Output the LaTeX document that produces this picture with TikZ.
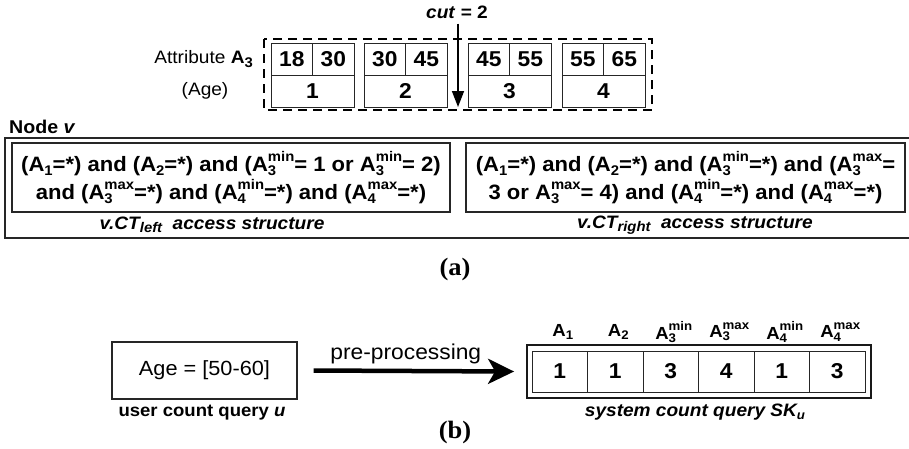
\documentclass[tikz,border=0pt]{standalone}
\usepackage{fontspec}
\setmainfont{Liberation Sans}[FakeStretch=1.06]
\newfontfamily\serifb{Liberation Serif}[FakeStretch=1.06]
\usetikzlibrary{arrows.meta}
\newcommand{\scsz}{14}
\newcommand{\Ssub}[1]{\raisebox{-0.18em}{\fontsize{\scsz}{\scsz}\selectfont #1}}
\newcommand{\Ssup}[1]{\raisebox{0.47em}{\fontsize{\scsz}{\scsz}\selectfont #1}}
\newcommand{\Asb}[1]{A\Ssub{#1}}
\newcommand{\Asp}[2]{A\rlap{\Ssub{#1}}\Ssup{#2}}
\tikzset{
  cellbox/.style={draw=black!85, line width=1pt, inner sep=0pt, font=\fontsize{21.5}{21.5}\selectfont\bfseries},
  condbox/.style={draw=black!85, line width=1.1pt, inner sep=0pt, align=center, font=\fontsize{20.8}{28}\selectfont\bfseries},
  lbl/.style={inner sep=0pt},
}
\begin{document}
\begin{tikzpicture}[x=1pt,y=-1pt]
\useasboundingbox (0,0) rectangle (909,448);
% ---------- (a) top ----------
\draw[dashed, dash pattern=on 9pt off 6pt, line width=1.4pt] (264,39) rectangle (652,110);
\foreach \n/\x/\lo/\hi/\num in {1/271/18/30/1, 2/364/30/45/2, 3/468/45/55/3, 4/562/55/65/4}{
  \node[cellbox, minimum width=41.5pt, minimum height=32pt] (lo\n) at (\x+20.75,59) {\lo};
  \node[cellbox, minimum width=41.5pt, minimum height=32pt] (hi\n) at (\x+62.25,59) {\hi};
  \node[cellbox, minimum width=83pt, minimum height=32pt] (bin\n) at (\x+41.5,91) {\num};
}
\node[lbl, anchor=east, font=\fontsize{18}{18}\selectfont] (attr) at (253,59) {Attribute \textbf{A\Ssub{3}}};
\node[lbl, font=\fontsize{18}{18}\selectfont] (age) at (205,91) {(Age)};
\node[lbl, font=\fontsize{18}{18}\selectfont\bfseries] (cut) at (457,12) {\textit{cut} = 2};
\coordinate (cutend) at (458,107);
\draw[line width=1.5pt, -{Triangle[length=16pt,width=12pt]}] ([yshift=-5pt]cutend |- cut.south) -- (cutend);
% ---------- Node v ----------
\node[lbl, anchor=west, font=\fontsize{18.5}{18.5}\selectfont\bfseries] (nodev) at (9,127) {Node \textit{v}};
\draw[line width=1.4pt, black!85] (912,138) -- (5,138) -- (5,238) -- (912,238);
\node[condbox, minimum width=438pt, minimum height=69pt] (ctl) at (231,177.5)
  {(\Asb{1}=*) and (\Asb{2}=*) and (\Asp{3}{min}= 1 or \Asp{3}{min}= 2)\\
   and (\Asp{3}{max}=*) and (\Asp{4}{min}=*) and (\Asp{4}{max}=*)};
\node[condbox, minimum width=439pt, minimum height=69pt] (ctr) at (685.5,177.5)
  {(\Asb{1}=*) and (\Asb{2}=*) and (\Asp{3}{min}=*) and (\Asp{3}{max}=\\
   3 or \Asp{3}{max}= 4) and (\Asp{4}{min}=*) and (\Asp{4}{max}=*)};
\node[lbl, font=\fontsize{18}{18}\selectfont\bfseries\itshape] (ctllbl) at (212,225)
  {v.CT\Ssub{left}\ \ access structure};
\node[lbl, font=\fontsize{18}{18}\selectfont\bfseries\itshape] (ctrlbl) at (695,225)
  {v.CT\Ssub{right}\ \ access structure};
\node[lbl, font=\serifb\fontsize{25}{25}\selectfont\bfseries] (capa) at (455,269) {(a)};
% ---------- (b) ----------
\node[draw=black!85, line width=1.1pt, minimum width=185pt, minimum height=57pt, inner sep=0pt,
      font=\fontsize{20.5}{20.5}\selectfont] (query) at (204.5,370.5) {Age = [50-60]};
\node[lbl, font=\fontsize{17.5}{17.5}\selectfont\bfseries] (querylbl) at (202,413) {user count query \textit{u}};
\node[draw=black!90, line width=1.8pt, minimum width=344pt, minimum height=53pt, inner sep=0pt] (sk) at (699,371.5) {};
\renewcommand{\scsz}{12.5}
\foreach \i/\v/\lab in {1/1/{\Asb{1}}, 2/1/{\Asb{2}}, 3/3/{\Asp{3}{min}}, 4/4/{\Asp{3}{max}}, 5/1/{\Asp{4}{min}}, 6/3/{\Asp{4}{max}}}{
  \node[cellbox, minimum width=55.5pt, minimum height=41pt] (c\i) at (504.25+55.5*\i,371.5) {\v};
  \node[lbl, font=\fontsize{17.5}{17.5}\selectfont\bfseries] (h\i) at (504.25+55.5*\i+3,332) {\lab};
}
\node[lbl, font=\fontsize{18}{18}\selectfont\bfseries\itshape] (sklbl) at (695,412) {system count query SK\Ssub{u}};
\draw[line width=4.5pt, -{Stealth[length=26pt,width=25pt,inset=7pt]}] ([xshift=16pt]query.east) -- ([xshift=-12pt]sk.west)
  node[pos=0.46, above=5pt, lbl, font=\fontsize{21.5}{21.5}\selectfont] (pre) {pre-processing};
\node[lbl, font=\serifb\fontsize{25}{25}\selectfont\bfseries] (capb) at (455,432) {(b)};
\end{tikzpicture}
\end{document}
